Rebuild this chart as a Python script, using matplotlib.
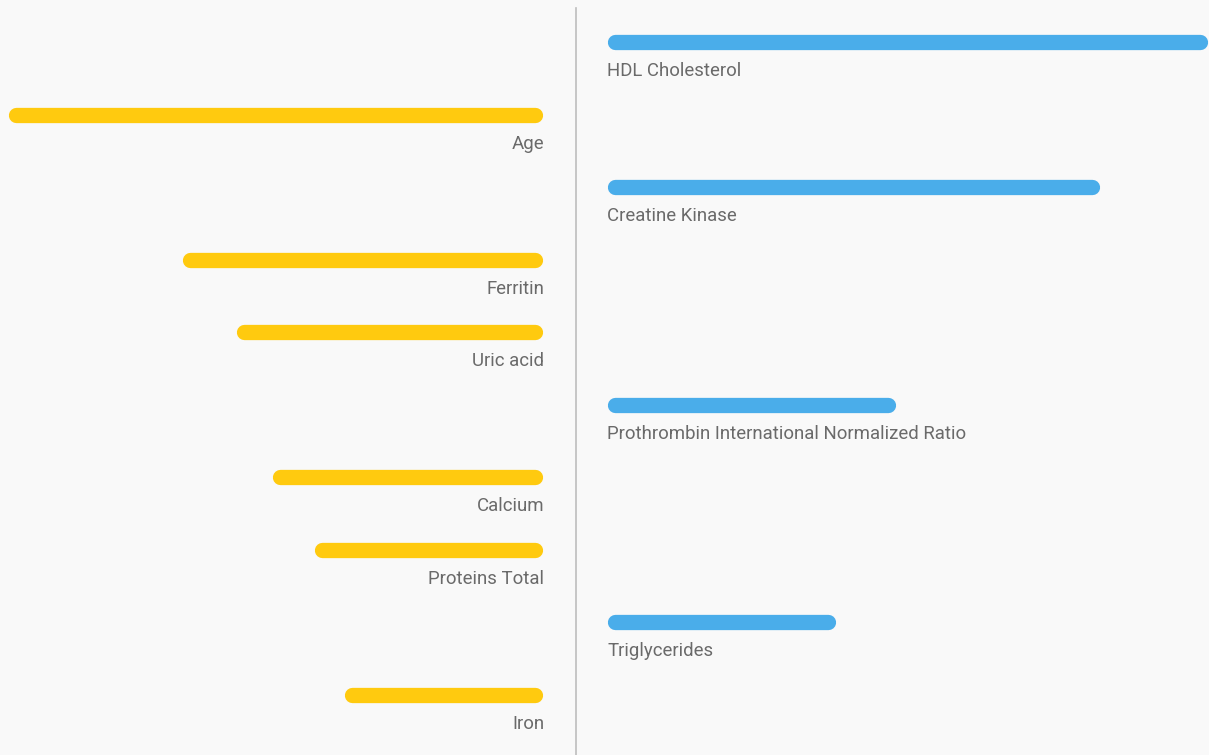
import matplotlib
matplotlib.use("Agg")
import matplotlib.pyplot as plt

# row order top -> bottom, side says which half of the chart the bar sits on
labels = ["HDL Cholesterol", "Age", "Creatine Kinase", "Ferritin", "Uric acid",
          "Prothrombin International Normalized Ratio", "Calcium", "Proteins Total",
          "Triglycerides", "Iron"]
sides = ["right", "left", "right", "left", "left", "right", "left", "left", "right", "left"]
values = [1.00, 0.89, 0.82, 0.60, 0.51, 0.48, 0.45, 0.38, 0.38, 0.33]

yellow = "#FFCA0F"
blue = "#4AADEA"
text_col = "#6a6a6a"
bg = "#F9F9F9"

plt.rcParams['font.family'] = ['Roboto', 'DejaVu Sans']

fig = plt.figure(figsize=(12.09, 7.55), dpi=100, facecolor=bg)
ax = fig.add_axes([0, 0, 1, 1])
ax.set_facecolor(bg)

px = 1 / 600          # one pixel in data units
cap = 7.5 * px        # round cap half width
ax.set_xlim(-576 * px, (1209 - 576) * px)
row = 72.56
ax.set_ylim((755 - 42) / row, -42 / row)

# centre divider
ax.plot([0, 0], [(8 - 42) / row, (755 - 42) / row], color="#bdbdbd", lw=1.2, zorder=1)

for i, (lab, side, v) in enumerate(zip(labels, sides, values)):
    if side == "right":
        g = 31 * px
        ax.plot([g + cap, g + v - cap], [i, i], color=blue, lw=11,
                solid_capstyle="round", zorder=2)
        ax.text(g, i + 29 / row, lab, ha="left", va="center", fontsize=13.4, color=text_col)
    else:
        g = 34 * px
        ax.plot([-g - cap, -g - v + cap], [i, i], color=yellow, lw=11,
                solid_capstyle="round", zorder=2)
        ax.text(-g + 2 * px, i + 29 / row, lab, ha="right", va="center", fontsize=13.4, color=text_col)

ax.axis("off")
fig.savefig("out.png", dpi=100, facecolor=bg)
